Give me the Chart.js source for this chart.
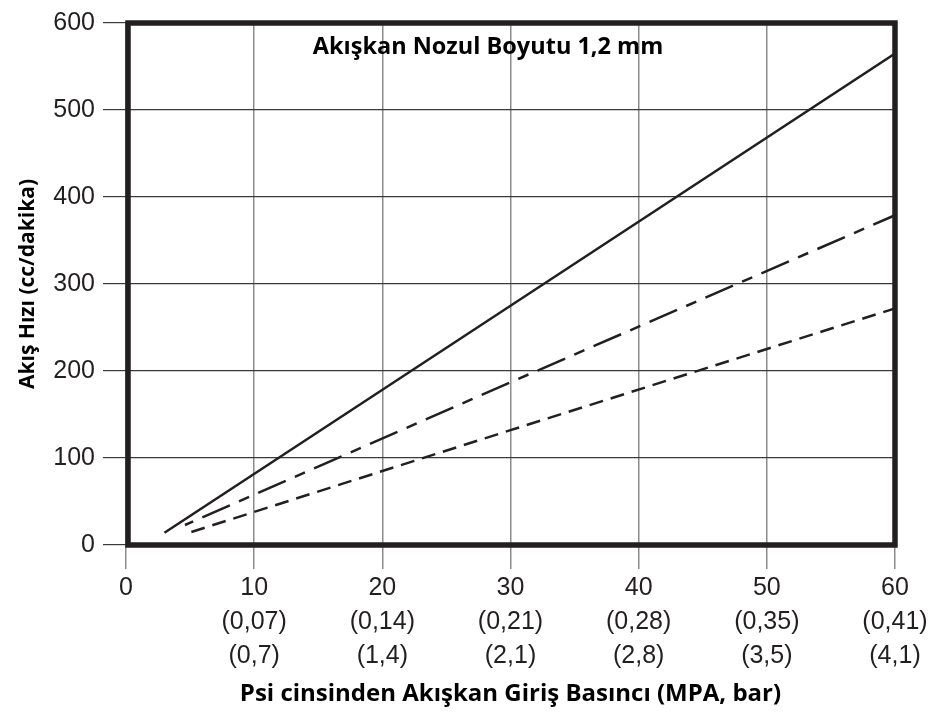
<!DOCTYPE html>
<html>
<head>
<meta charset="utf-8">
<script src="https://cdn.jsdelivr.net/npm/chart.js@4"></script>
<style>
html,body{margin:0;padding:0;background:#fff;}
#c{display:block;}
</style>
</head>
<body>
<canvas id="c" width="941" height="713"></canvas>
<script>
// ---- data ----
const psiTicks = [0, 10, 20, 30, 40, 50, 60];
const mpaLabels = ['', '(0,07)', '(0,14)', '(0,21)', '(0,28)', '(0,35)', '(0,41)'];
const barLabels = ['', '(0,7)', '(1,4)', '(2,1)', '(2,8)', '(3,5)', '(4,1)'];

const solidX = [3, 30, 60];
const solidY = [14, 275, 565];
const dashDotX = [4.6, 30, 60];
const dashDotY = [23, 187, 379];
const dashedX = [5.1, 30, 60];
const dashedY = [15, 132, 272];

const chartTitle = 'Akışkan Nozul Boyutu 1,2 mm';
const xTitle = 'Psi cinsinden Akışkan Giriş Basıncı (MPA, bar)';
const yTitle = 'Akış Hızı (cc/dakika)';

function pts(xs, ys) { return xs.map((x, i) => ({x: x, y: ys[i]})); }

const INK = '#231f20';

const framePlugin = {
  id: 'frame',
  afterDraw(chart) {
    const {ctx, chartArea: a} = chart;
    ctx.save();
    ctx.strokeStyle = INK;
    ctx.lineWidth = 5.5;
    ctx.strokeRect(a.left + 2, a.top, a.right - a.left - 2, a.bottom - a.top);
    ctx.fillStyle = '#000';
    ctx.font = 'bold 23.5px "Open Sans"';
    ctx.textAlign = 'center';
    ctx.textBaseline = 'middle';
    ctx.fillText(chartTitle, 488, 47);
    ctx.restore();
  }
};

const whiteBg = {
  id: 'whiteBg',
  beforeDraw(chart) {
    const ctx = chart.ctx;
    ctx.save();
    ctx.fillStyle = '#fff';
    ctx.fillRect(0, 0, chart.width, chart.height);
    ctx.restore();
  }
};

new Chart(document.getElementById('c'), {
  type: 'scatter',
  data: {
    datasets: [
      {data: pts(solidX, solidY), showLine: true, borderColor: INK, borderWidth: 2.5, pointRadius: 0, borderDash: []},
      {data: pts(dashDotX, dashDotY), showLine: true, borderColor: INK, borderWidth: 2.5, pointRadius: 0, borderDash: [30, 10, 11, 10], borderDashOffset: 42},
      {data: pts(dashedX, dashedY), showLine: true, borderColor: INK, borderWidth: 2.5, pointRadius: 0, borderDash: [14, 8]}
    ]
  },
  options: {
    responsive: false,
    animation: false,
    layout: {padding: {top: 17, right: 46, left: 0, bottom: 0}},
    plugins: {legend: {display: false}, tooltip: {enabled: false}},
    scales: {
      x: {
        type: 'linear', min: 0, max: 60,
        afterFit(s) { s.height = 168; },
        border: {display: false},
        grid: {color: '#8c8c8c', lineWidth: 1.5, tickLength: 24},
        ticks: {
          stepSize: 10, color: '#231f20', padding: 2,
          font: {family: '"Liberation Sans", Arial', size: 25, lineHeight: 1.36},
          callback(v) {
            const i = psiTicks.indexOf(v);
            if (i <= 0) return String(v);
            return [String(v), mpaLabels[i], barLabels[i]];
          }
        },
        title: {display: true, text: xTitle, color: '#000',
          font: {family: '"Open Sans"', weight: 'bold', size: 24, lineHeight: 1.2},
          padding: {top: 0, bottom: 4.5}}
      },
      y: {
        min: 0, max: 600,
        afterFit(s) { s.width = 126; },
        border: {display: false},
        grid: {color: '#3a3a3a', lineWidth: 1.2, tickLength: 23},
        ticks: {stepSize: 100, color: '#231f20', padding: 8,
          font: {family: '"Liberation Sans", Arial', size: 25}},
        title: {display: true, text: yTitle, color: '#000',
          font: {family: '"Open Sans"', weight: 'bold', size: 21, lineHeight: 1.2},
          padding: {top: 15.5, bottom: 0}}
      }
    }
  },
  plugins: [whiteBg, framePlugin]
});
</script>
</body>
</html>
